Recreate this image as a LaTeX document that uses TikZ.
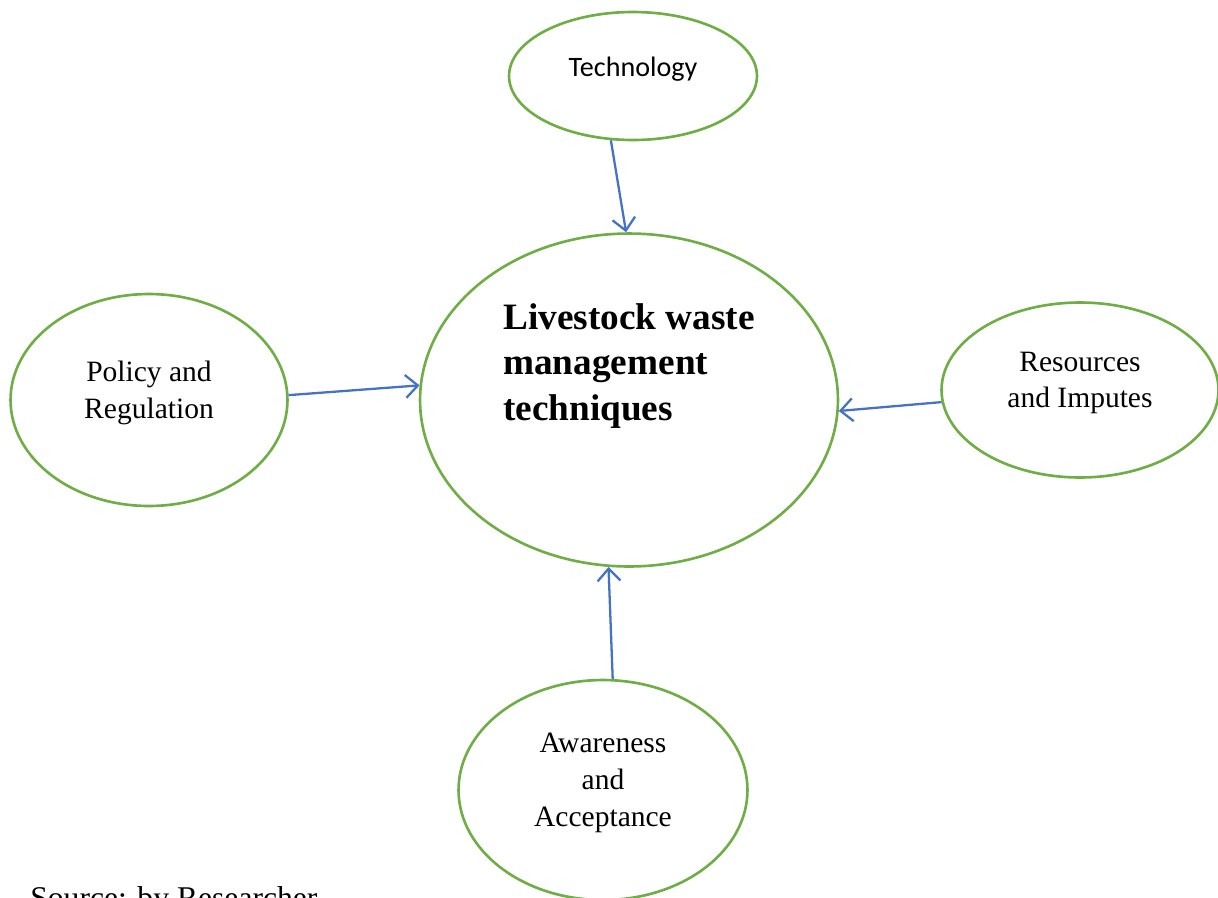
\documentclass[tikz,border=0pt]{standalone}
\usepackage{fontspec}
\setmainfont{Liberation Serif}
\newfontfamily\calibrifont{Carlito}
\usetikzlibrary{arrows.meta, shapes.geometric}
\definecolor{bubblegreen}{RGB}{112,173,71}
\definecolor{linkblue}{RGB}{68,114,196}
\tikzset{
	px/.style={x={(0.02cm,0cm)},y={(0cm,-0.02cm)}},
	bubble/.style={ellipse, draw=bubblegreen, line width=1.5pt, inner sep=0pt},
	link/.style={-{Straight Barb[length=7pt,width=13pt,line width=1.3pt]}, draw=linkblue, line width=1.3pt},
	words/.style={font=\fontsize{16.8}{21}\selectfont, align=center, inner sep=0pt},
	mainwords/.style={font=\fontsize{21.2}{26}\selectfont\bfseries, align=left, inner sep=0pt}
}

\begin{document}
\begin{tikzpicture}[px]

	\useasboundingbox (0,0) rectangle (1218,897);

	%% the five ellipses
	\node[bubble, minimum width=4.96cm, minimum height=2.56cm] (tech)      at (633,76)  {};
	\node[bubble, minimum width=8.36cm, minimum height=6.66cm] (main)      at (629,400) {};
	\node[bubble, minimum width=5.54cm, minimum height=4.24cm] (policy)    at (149,400) {};
	\node[bubble, minimum width=5.54cm, minimum height=3.50cm] (resources) at (1080,390) {};
	\node[bubble, minimum width=5.78cm, minimum height=4.40cm] (aware)     at (603,790) {};

	%% texts
	\node[words, font=\calibrifont\fontsize{16}{20}\selectfont] (techtext) at (633,69) {Technology};
	\node[mainwords] (maintext) at (629,366) {Livestock waste\\management\\techniques};
	\node[words] (policytext)    at (149,393) {Policy and\\Regulation};
	\node[words] (resourcestext) at (1080,383) {Resources\\and Imputes};
	\node[words] (awaretext)     at (603,783) {Awareness\\and\\Acceptance};
	\node[words, font=\fontsize{18}{22}\selectfont, anchor=base west] (source) at (30,908) {Source: by Researcher};

	%% arrows into the centre
	\draw[link] (tech.251)      -- (main.91);
	\draw[link] (policy.2.5)    -- (main.176.4);
	\draw[link] (resources.185.8) -- (main.357);
	\draw[link] (aware.85.8)    -- (main.263.8);

\end{tikzpicture}
\end{document}
